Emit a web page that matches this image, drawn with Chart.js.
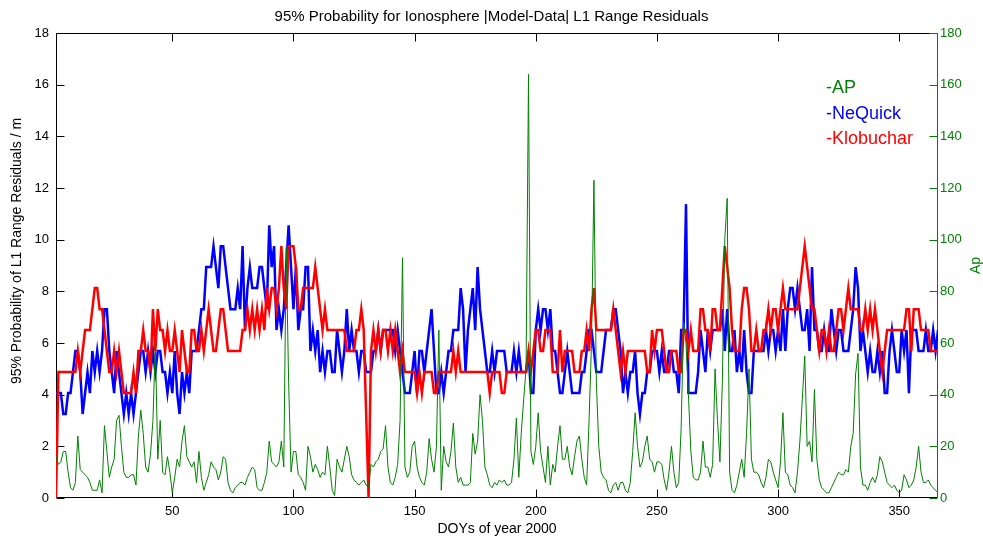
<!DOCTYPE html>
<html><head><meta charset="utf-8">
<script src="https://cdn.jsdelivr.net/npm/chart.js@4.4.1/dist/chart.umd.min.js"></script>
<style>html,body{margin:0;padding:0;background:#fff;}canvas{display:block;}</style>
</head><body>
<canvas id="c" width="983" height="539"></canvas>
<script>
const dayStart = 2;

// Ap index (right axis), days 2..366
const apValues = [
  16,13,14,18,18,10,4,3,
  6,24,11,10,9,8,6,3,3,3,
  7,2,28,18,8,12,15,30,32,20,
  10,8,8,9,9,5,24,34,25,12,
  10,17,30,60,15,30,10,9,16,10,
  2,8,15,12,22,28,16,14,12,14,
  6,18,8,3,6,9,14,12,11,7,
  10,16,15,6,3,2,4,5,6,6,
  5,8,10,12,11,4,3,3,6,10,
  22,14,13,12,14,22,12,97,45,10,
  18,18,9,8,6,3,20,16,10,13,
  11,8,10,9,20,12,3,1,15,12,
  10,15,20,16,9,7,6,5,6,7,
  5,4,13,12,14,15,18,19,28,12,
  6,5,8,13,30,93,12,8,10,20,
  22,12,8,6,5,10,23,15,10,20,
  65,3,20,14,12,18,29,12,6,8,
  5,5,5,6,25,17,22,40,30,12,
  9,5,4,6,5,7,6,7,5,5,
  6,15,31,8,25,38,50,164,18,13,
  20,33,18,12,6,20,5,13,10,20,
  28,15,15,20,12,9,16,22,24,15,
  8,5,30,60,123,45,20,10,8,7,
  3,2,5,6,3,6,6,3,2,6,
  18,33,20,12,14,20,24,15,14,10,
  14,14,13,7,3,10,20,10,4,6,
  27,68,60,40,18,8,7,7,10,22,
  12,12,8,13,50,30,14,45,100,116,
  10,3,2,5,10,15,8,25,50,15,
  10,10,9,6,4,8,15,14,10,7,
  4,14,33,10,9,5,4,2,10,22,
  38,55,20,22,14,42,15,7,4,3,
  2,2,4,6,8,10,9,9,11,10,
  20,25,48,56,12,5,5,3,6,8,
  6,9,16,14,10,6,5,4,5,3,
  2,3,9,7,4,5,7,12,20,10,
  6,6,7,5,4,3,2
];

// NeQuick 95% residuals (m), days 2..366
const neQuick = [
  4.06,4.06,4.06,3.25,3.25,4.06,4.06,4.875,
  5.69,5.69,4.875,3.25,4.06,4.875,4.06,5.69,4.875,5.69,
  4.875,5.69,7.31,7.31,5.69,4.875,4.06,5.69,4.875,4.06,
  3.25,4.06,3.25,4.06,3.25,4.06,4.875,5.69,5.69,4.875,
  5.69,4.875,5.69,4.875,5.69,5.69,4.875,4.875,4.06,4.875,
  4.06,5.69,4.06,3.25,4.875,4.06,4.875,4.06,5.69,5.69,
  5.69,6.5,7.31,7.31,8.94,8.94,8.94,9.75,8.94,8.125,
  9.75,9.75,8.94,8.125,7.31,7.31,7.31,8.125,7.31,9.75,
  6.5,8.125,8.94,8.125,8.125,8.125,8.94,8.94,8.125,7.31,
  10.56,8.94,9.75,6.5,7.31,6.5,7.31,8.94,10.56,8.94,
  7.31,8.94,6.5,7.31,7.31,8.94,8.94,5.69,6.5,5.69,
  6.5,4.875,5.69,4.875,5.69,5.69,4.875,4.875,6.5,5.69,
  4.875,5.69,7.31,5.69,6.5,5.69,5.69,4.875,5.69,5.69,
  4.875,4.875,4.875,5.69,5.69,6.5,5.69,6.5,6.5,6.5,
  6.5,6.5,5.69,6.5,5.69,4.875,4.06,4.06,4.06,4.875,
  5.69,4.06,5.69,5.69,4.875,5.69,6.5,7.31,5.69,4.06,
  4.06,4.875,4.06,4.875,5.69,5.69,6.5,6.5,6.5,8.125,
  7.31,4.875,6.5,7.31,8.125,6.5,8.94,7.31,6.5,5.69,
  4.875,4.875,5.69,4.875,5.69,5.69,5.69,5.69,4.875,4.875,
  4.875,5.69,4.875,5.69,4.875,4.875,4.875,5.69,4.06,4.06,
  6.5,7.31,6.5,7.31,7.31,6.5,7.31,5.69,5.69,4.875,
  4.06,4.06,4.875,5.69,4.875,4.06,4.06,4.06,4.06,4.875,
  4.875,5.69,6.5,6.5,5.69,4.875,4.875,4.875,5.69,6.5,
  6.5,6.5,7.31,7.31,6.5,5.69,4.06,4.875,4.06,4.875,
  4.875,5.69,4.06,3.25,4.06,4.06,4.875,4.875,5.69,5.69,
  5.69,4.875,5.69,4.875,4.875,5.69,5.69,4.875,4.875,4.06,
  6.5,6.5,11.375,4.06,4.06,4.06,4.06,4.875,6.5,5.69,
  4.875,6.5,5.69,6.5,6.5,6.5,6.5,7.31,5.69,7.31,
  5.69,5.69,6.5,4.875,5.69,4.875,6.5,4.875,4.06,4.06,
  5.69,5.69,5.69,5.69,5.69,6.5,5.69,6.5,6.5,5.69,
  6.5,5.69,7.31,5.69,7.31,8.125,8.125,7.31,8.125,7.31,
  6.5,6.5,7.31,5.69,8.94,6.5,6.5,5.69,5.69,6.5,
  5.69,5.69,7.31,6.5,5.69,6.5,6.5,5.69,5.69,5.69,
  6.5,7.31,8.94,8.125,5.69,6.5,5.69,4.875,5.69,4.875,
  4.875,5.69,4.875,5.69,4.06,4.06,5.69,6.5,5.69,4.875,
  4.875,6.5,5.69,6.5,4.06,6.5,6.5,6.5,5.69,5.69,
  5.69,6.5,5.69,5.69,6.5,5.69,6.5
];

// Klobuchar 95% residuals (m), days 2..366
const klobuchar = [
  0,4.875,4.875,4.875,4.875,4.875,4.875,4.875,
  4.875,5.69,4.875,5.69,6.5,6.5,6.5,7.31,8.125,8.125,
  7.31,7.31,6.5,5.69,4.875,4.875,5.69,4.875,5.69,4.875,
  4.06,4.06,4.06,4.06,4.875,4.06,5.69,5.69,6.5,5.69,
  5.69,4.875,7.31,5.69,7.31,6.5,6.5,5.69,6.5,5.69,
  5.69,6.5,5.69,4.875,6.5,5.69,4.875,4.875,6.5,6.5,
  5.69,5.69,6.5,5.69,6.5,7.31,6.5,5.69,5.69,6.5,
  7.31,7.31,6.5,5.69,5.69,5.69,5.69,5.69,5.69,6.5,
  6.5,7.31,6.5,7.31,6.5,7.31,6.5,7.31,6.5,8.125,
  7.31,8.125,8.125,7.31,8.125,9.75,8.125,7.31,9.75,9.75,
  9.75,8.94,7.31,7.31,8.125,8.125,8.125,8.125,8.125,8.94,
  8.125,7.31,6.5,7.31,6.5,6.5,6.5,6.5,6.5,6.5,
  6.5,6.5,5.69,5.69,5.69,5.69,6.5,6.5,7.31,6.5,
  3.25,0,5.69,6.5,5.69,6.5,5.69,6.5,6.5,5.69,
  6.5,5.69,6.5,5.69,4.875,5.69,4.875,4.875,4.875,4.875,
  4.875,4.06,4.875,4.06,4.875,4.875,4.875,4.875,4.06,4.06,
  4.875,4.875,4.875,4.875,4.875,4.875,5.69,4.875,5.69,4.875,
  4.875,4.875,4.875,4.875,4.875,4.875,4.875,4.875,4.875,4.875,
  4.875,4.06,4.875,4.875,4.875,4.875,4.06,4.06,4.875,4.875,
  4.875,4.875,4.875,4.875,4.875,4.875,4.875,5.69,4.875,5.69,
  6.5,6.5,5.69,5.69,6.5,6.5,6.5,4.875,4.875,4.875,
  6.5,4.875,5.69,5.69,5.69,5.69,4.875,4.875,4.875,5.69,
  5.69,6.5,5.69,7.31,8.125,6.5,6.5,6.5,6.5,6.5,
  6.5,6.5,7.31,6.5,5.69,4.875,5.69,4.875,5.69,5.69,
  5.69,5.69,5.69,5.69,5.69,5.69,4.875,4.875,6.5,5.69,
  6.5,6.5,6.5,5.69,4.875,4.875,5.69,5.69,5.69,4.875,
  4.875,6.5,6.5,5.69,6.5,5.69,5.69,5.69,7.31,7.31,
  6.5,6.5,5.69,7.31,7.31,6.5,6.5,8.125,9.75,8.94,
  8.125,6.5,5.69,5.69,5.69,7.31,8.125,8.125,7.31,5.69,
  5.69,6.5,5.69,5.69,6.5,6.5,7.31,6.5,7.31,7.31,
  6.5,7.31,8.125,7.31,7.31,7.31,7.31,7.31,7.31,8.125,
  8.94,9.75,8.94,8.125,7.31,7.31,6.5,5.69,6.5,6.5,
  5.69,6.5,5.69,5.69,6.5,7.31,7.31,6.5,7.31,8.125,
  7.31,7.31,7.31,7.31,6.5,6.5,7.31,6.5,7.31,6.5,
  7.31,6.5,5.69,4.875,5.69,6.5,6.5,6.5,6.5,6.5,
  6.5,6.5,6.5,7.31,7.31,5.69,7.31,7.31,7.31,6.5,
  6.5,6.5,6.5,5.69,5.69,5.69,5.69
];

const days = apValues.map((_, i) => dayStart + i);
const xTicks = [50, 100, 150, 200, 250, 300, 350];
const leftTicks = [0, 2, 4, 6, 8, 10, 12, 14, 16, 18];
const rightTicks = [0, 20, 40, 60, 80, 100, 120, 140, 160, 180];

const FONT = "'Liberation Sans', Arial, Helvetica, sans-serif";
const GREEN = '#008000';

const toXY = arr => arr.map((v, i) => ({ x: days[i], y: v }));

const framePlugin = {
  id: 'frame',
  beforeDatasetsDraw(chart) {
    const { ctx, chartArea: { left, right, top, bottom }, scales: { x, y, y2 } } = chart;
    const L = Math.round(left) + 0.5, R = Math.round(right) - 0.5;
    const T = Math.round(top) + 0.5, B = Math.round(bottom) - 0.5;
    ctx.save();
    ctx.lineWidth = 1;
    ctx.strokeStyle = '#000';
    ctx.beginPath();
    ctx.moveTo(R, T); ctx.lineTo(L, T); ctx.lineTo(L, B); ctx.lineTo(R, B);
    leftTicks.forEach(v => { const p = Math.round(y.getPixelForValue(v)) + 0.5; ctx.moveTo(L, p); ctx.lineTo(L + 8, p); });
    xTicks.forEach(v => { const p = Math.round(x.getPixelForValue(v)) + 0.5; ctx.moveTo(p, B); ctx.lineTo(p, B - 8); ctx.moveTo(p, T); ctx.lineTo(p, T + 8); });
    ctx.stroke();
    ctx.strokeStyle = GREEN;
    ctx.beginPath();
    ctx.moveTo(R, T); ctx.lineTo(R, B);
    rightTicks.forEach(v => { const p = Math.round(y2.getPixelForValue(v)) + 0.5; ctx.moveTo(R, p); ctx.lineTo(R - 8, p); });
    ctx.stroke();
    ctx.restore();
  }
};

const textPlugin = {
  id: 'texts',
  afterDraw(chart) {
    const { ctx, chartArea: { top, bottom } } = chart;
    ctx.save();
    ctx.font = '18px ' + FONT;
    ctx.textAlign = 'left';
    ctx.textBaseline = 'alphabetic';
    const baselines = [93, 118.5, 144];
    chart.data.datasets.forEach((ds, i) => {
      ctx.fillStyle = ds.borderColor;
      ctx.fillText('-' + ds.label, 826, baselines[i]);
    });
    // right axis label (reads bottom-to-top like the left one)
    ctx.save();
    ctx.font = '14px ' + FONT;
    ctx.fillStyle = GREEN;
    ctx.translate(976, (top + bottom) / 2);
    ctx.rotate(-Math.PI / 2);
    ctx.textAlign = 'center';
    ctx.textBaseline = 'middle';
    ctx.fillText(chart.options.scales.y2.title.text, 0, 0);
    ctx.restore();
    // left axis label
    ctx.save();
    ctx.font = '14px ' + FONT;
    ctx.fillStyle = '#000';
    ctx.translate(17, 251);
    ctx.rotate(-Math.PI / 2);
    ctx.textAlign = 'center';
    ctx.textBaseline = 'middle';
    ctx.fillText(chart.options.scales.y.title.text, 0, 0);
    ctx.restore();
    ctx.restore();
  }
};

new Chart(document.getElementById('c').getContext('2d'), {
  type: 'line',
  data: {
    datasets: [
      { label: 'AP', data: toXY(apValues), yAxisID: 'y2', borderColor: GREEN, borderWidth: 1, pointRadius: 0, tension: 0, order: 0 },
      { label: 'NeQuick', data: toXY(neQuick), yAxisID: 'y', borderColor: '#0000ff', borderWidth: 2.5, pointRadius: 0, tension: 0, order: 2 },
      { label: 'Klobuchar', data: toXY(klobuchar), yAxisID: 'y', borderColor: '#ff0000', borderWidth: 2.5, pointRadius: 0, tension: 0, order: 1 }
    ]
  },
  options: {
    responsive: false,
    animation: false,
    devicePixelRatio: 1,
    layout: { padding: 0 },
    font: { family: FONT },
    plugins: {
      legend: { display: false },
      tooltip: { enabled: false },
      title: {
        display: true,
        text: '95% Probability for Ionosphere |Model-Data| L1 Range Residuals',
        color: '#000',
        font: { family: FONT, size: 15, weight: 'normal' },
        padding: { top: 8, bottom: 7 }
      }
    },
    scales: {
      x: {
        type: 'linear', min: dayStart, max: 366, position: 'bottom',
        grid: { display: false, drawTicks: false },
        border: { display: false },
        ticks: { stepSize: 50, includeBounds: false, color: '#000', font: { family: FONT, size: 13 }, padding: 6, maxRotation: 0, autoSkip: false },
        title: { display: true, text: 'DOYs of year 2000', color: '#000', font: { family: FONT, size: 14 }, padding: { top: 0, bottom: 1 } },
        afterFit(s) { s.height = 41; }
      },
      y: {
        type: 'linear', position: 'left', min: 0, max: 18,
        grid: { display: false, drawTicks: false },
        border: { display: false },
        ticks: { stepSize: 2, color: '#000', font: { family: FONT, size: 13 }, padding: 7 },
        title: { display: false, text: '95% Probability of L1 Range Residuals / m' },
        afterFit(s) { s.width = 56; }
      },
      y2: {
        type: 'linear', position: 'right', min: 0, max: 180,
        grid: { display: false, drawTicks: false },
        border: { display: false },
        ticks: { stepSize: 20, color: GREEN, font: { family: FONT, size: 13 }, padding: 2 },
        title: { display: false, text: 'Ap' },
        afterFit(s) { s.width = 45; }
      }
    }
  },
  plugins: [framePlugin, textPlugin]
});
</script>
</body></html>
